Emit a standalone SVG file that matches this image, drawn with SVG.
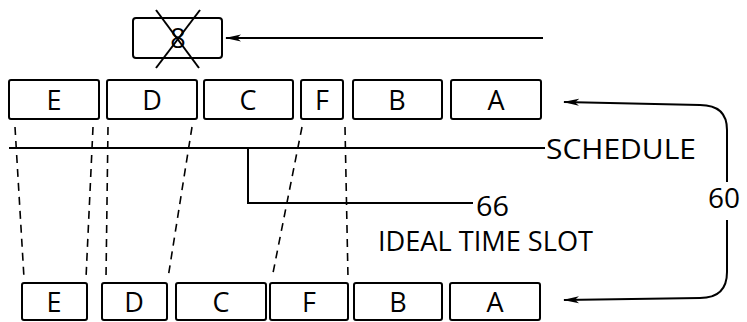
<svg xmlns="http://www.w3.org/2000/svg" width="747" height="322" viewBox="0 0 747 322">
<style>
.box{fill:#fff;stroke:#000;stroke-width:2}
.lbl{font-family:"Open Sans","DejaVu Sans",sans-serif;font-size:27px;text-anchor:middle;fill:#000}
.txt{font-family:"Open Sans","DejaVu Sans",sans-serif;font-size:28px;fill:#000}
.ln{fill:none;stroke:#000;stroke-width:2}
.dash{fill:none;stroke:#000;stroke-width:1.6;stroke-dasharray:8 6}
</style>
<defs>
<marker id="ah" markerWidth="16" markerHeight="8" refX="15" refY="4" orient="auto" markerUnits="userSpaceOnUse">
<path d="M16,4 L0,0.5 L4,4 L0,7.5 Z" fill="#000"/>
</marker>
</defs>
<g id="removed">
<rect class="box" x="133" y="18" width="89" height="40" rx="3"/>
<text class="lbl" x="178" y="48">8</text>
<line class="ln" x1="156" y1="10" x2="199" y2="68" stroke-width="1.6"/>
<line class="ln" x1="200" y1="10" x2="156" y2="68" stroke-width="1.6"/>
</g>
<g id="top-row">
<g id="top-E"><rect class="box" x="9" y="80" width="90" height="39" rx="2"/><text class="lbl" x="54" y="110">E</text></g>
<g id="top-D"><rect class="box" x="107" y="80" width="90" height="39" rx="2"/><text class="lbl" x="152" y="110">D</text></g>
<g id="top-C"><rect class="box" x="204" y="80" width="89" height="39" rx="2"/><text class="lbl" x="248" y="110">C</text></g>
<g id="top-F"><rect class="box" x="301" y="80" width="42" height="39" rx="2"/><text class="lbl" x="322" y="110">F</text></g>
<g id="top-B"><rect class="box" x="353" y="80" width="89" height="39" rx="2"/><text class="lbl" x="397" y="110">B</text></g>
<g id="top-A"><rect class="box" x="451" y="80" width="90" height="39" rx="2"/><text class="lbl" x="496" y="110">A</text></g>
</g>
<g id="bottom-row">
<g id="bot-E"><rect class="box" x="22" y="283" width="65" height="37" rx="2"/><text class="lbl" x="54" y="312">E</text></g>
<g id="bot-D"><rect class="box" x="102" y="283" width="65" height="37" rx="2"/><text class="lbl" x="134" y="312">D</text></g>
<g id="bot-C"><rect class="box" x="176" y="283" width="90" height="37" rx="2"/><text class="lbl" x="221" y="312">C</text></g>
<g id="bot-F"><rect class="box" x="270" y="283" width="78" height="37" rx="2"/><text class="lbl" x="309" y="312">F</text></g>
<g id="bot-B"><rect class="box" x="354" y="283" width="88" height="37" rx="2"/><text class="lbl" x="398" y="312">B</text></g>
<g id="bot-A"><rect class="box" x="450" y="283" width="90" height="37" rx="2"/><text class="lbl" x="495" y="312">A</text></g>
</g>
<g id="connectors">
<line class="ln" x1="543" y1="38" x2="226" y2="38" marker-end="url(#ah)"/>
<line class="ln" x1="9" y1="148" x2="545" y2="148"/>
<path class="ln" d="M248,148 V203 H473"/>
<line class="dash" x1="15" y1="127" x2="24" y2="278"/>
<line class="dash" x1="93" y1="127" x2="86" y2="278"/>
<line class="dash" x1="108" y1="127" x2="106" y2="278"/>
<line class="dash" x1="192" y1="127" x2="168" y2="278"/>
<line class="dash" x1="302" y1="127" x2="272" y2="278"/>
<line class="dash" x1="345" y1="127" x2="348" y2="278"/>
<path class="ln" d="M727,182 V130 Q727,105 700,105 L564,102" marker-end="url(#ah)"/>
<path class="ln" d="M727,220 V272 Q727,298 700,298 L564,300" marker-end="url(#ah)"/>
</g>
<g id="labels">
<text class="txt" x="546" y="159" textLength="150" lengthAdjust="spacingAndGlyphs">SCHEDULE</text>
<text class="txt" x="476" y="216" textLength="33" lengthAdjust="spacingAndGlyphs">66</text>
<text class="txt" x="708" y="208" textLength="32" lengthAdjust="spacingAndGlyphs">60</text>
<text class="txt" x="378" y="251" textLength="215" lengthAdjust="spacingAndGlyphs">IDEAL TIME SLOT</text>
</g>
</svg>
